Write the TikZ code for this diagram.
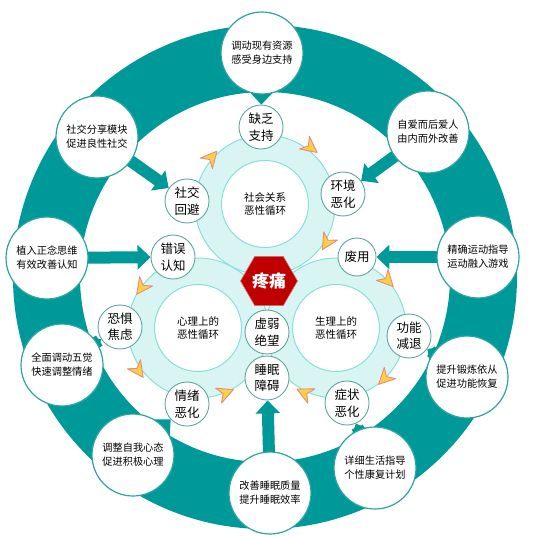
\documentclass[tikz,border=0pt]{standalone}
\usepackage{fontspec}
\newfontfamily\cjk{Noto Sans CJK SC}
\usetikzlibrary{arrows.meta,shapes.geometric}
\definecolor{ringteal}{HTML}{009999}
\definecolor{cyanfill}{HTML}{D8F5F3}
\definecolor{cyanline}{HTML}{86E0DA}
\definecolor{smallline}{HTML}{5EA7A2}
\definecolor{bigline}{HTML}{2AA5A0}
\definecolor{painred}{HTML}{C00000}
\definecolor{yfill}{HTML}{FFCF45}
\definecolor{yline}{HTML}{E58C7C}
\pgfdeclarelayer{ringlayer}
\pgfdeclarelayer{arrowlayer}
\pgfsetlayers{ringlayer,arrowlayer,main}
\begin{document}
\begin{tikzpicture}[x=1pt,y=-1pt,
 bignode/.style={circle, draw=bigline, line width=1.2pt, fill=white, minimum size=82pt, inner sep=0pt, align=center, font=\cjk\fontsize{10.2}{14}\selectfont},
 smallnode/.style={circle, draw=smallline, line width=0.9pt, fill=white, minimum size=44pt, inner sep=0pt, align=center, font=\cjk\fontsize{12.5}{16.5}\selectfont},
 innernode/.style={circle, draw=cyanline, line width=1pt, fill=white, minimum size=87pt, inner sep=0pt, align=center, font=\cjk\fontsize{10.5}{13.5}\selectfont},
 painnode/.style={regular polygon, regular polygon sides=6, minimum size=57pt, inner sep=0pt, fill=painred, draw=painred!55, line width=0.6pt, text=white, font=\cjk\bfseries\fontsize{17}{20}\selectfont},
 bigarrow/.style={draw=ringteal, line width=12pt, -{Triangle[width=24pt,length=13pt]}, shorten <=-3pt},
 yarrow/.pic={\filldraw[fill=yfill, draw=yline, line width=0.9pt, line join=round] (9,0) -- (-7,-8) -- (-2,0) -- (-7,8) -- cycle;}
]
\useasboundingbox (0,0) rectangle (537,537);

\begin{pgfonlayer}{ringlayer}
\fill[ringteal, even odd rule] (265,277) circle (252pt) circle (185pt);
\fill[cyanfill] (265,205) circle (70pt);
\fill[cyanfill] (198,328) circle (70pt);
\fill[cyanfill] (336,328) circle (70pt);
\draw[cyanline, line width=1pt] (265,205) circle (70pt);
\draw[cyanline, line width=1pt] (198,328) circle (70pt);
\draw[cyanline, line width=1pt] (336,328) circle (70pt);
\end{pgfonlayer}

% inner circles
\node[innernode] (I1) at (265,204) {社会关系\\恶性循环};
\node[innernode] (I2) at (198,328) {心理上的\\恶性循环};
\node[innernode] (I3) at (336,328) {生理上的\\恶性循环};
\node[painnode] (pain) at (269,281) {疼痛};

% yellow direction marks
\pic[rotate=49] at (211,158) {yarrow};
\pic[rotate=-38] at (310,147) {yarrow};
\pic[rotate=-121] at (327,242) {yarrow};
\pic[rotate=234] at (142,287) {yarrow};
\pic[rotate=305] at (138,370) {yarrow};
\pic[rotate=22] at (225,393) {yarrow};
\pic[rotate=-47] at (387,280) {yarrow};
\pic[rotate=-135] at (385,378) {yarrow};
\pic[rotate=154] at (305,393) {yarrow};

% small nodes
\node[smallnode] (S1) at (261,127) {缺乏\\支持};
\node[smallnode] (S2) at (187,201) {社交\\回避};
\node[smallnode] (S3) at (343,194) {环境\\恶化};
\node[smallnode] (S4) at (173,257) {错误\\认知};
\node[smallnode, minimum size=38pt] (S5) at (357,257) {废用};
\node[smallnode] (S6) at (120,327) {恐惧\\焦虑};
\node[smallnode] (S7) at (409,336) {功能\\减退};
\node[smallnode] (S8) at (187,404) {情绪\\恶化};
\node[smallnode] (S9) at (347,403) {症状\\恶化};
\node[smallnode] (S10) at (267,332) {虚弱\\绝望};
\node[smallnode] (S11) at (267,378) {睡眠\\障碍};

% big nodes
\node[bignode] (B1) at (262,53) {调动现有资源\\感受身边支持};
\node[bignode] (B2) at (97,137) {社交分享模块\\促进良性社交};
\node[bignode] (B3) at (428,132) {自爱而后爱人\\由内而外改善};
\node[bignode] (B4) at (47,258) {植入正念思维\\有效改善认知};
\node[bignode] (B5) at (478,257) {精确运动指导\\运动融入游戏};
\node[bignode] (B6) at (62,365) {全面调动五觉\\快速调整情绪};
\node[bignode] (B7) at (467,377) {提升锻炼依从\\促进功能恢复};
\node[bignode] (B8) at (133,455) {调整自我心态\\促进积极心理};
\node[bignode] (B9) at (375,468) {详细生活指导\\个性康复计划};
\node[bignode] (B10) at (270,493) {改善睡眠质量\\提升睡眠效率};

\begin{pgfonlayer}{arrowlayer}
\draw[bigarrow] (B1) -- (S1);
\draw[bigarrow] (B2) -- (S2);
\draw[bigarrow] (B3) -- (S3);
\draw[bigarrow] (B4) -- (S4);
\draw[bigarrow] (B5) -- (S5);
\draw[bigarrow] (B6) -- (S6);
\draw[bigarrow] (B7) -- (S7);
\draw[bigarrow] (B8) -- (S8);
\draw[bigarrow] (B9) -- (S9);
\draw[bigarrow] (B10) -- (S11);
\end{pgfonlayer}
\end{tikzpicture}
\end{document}
